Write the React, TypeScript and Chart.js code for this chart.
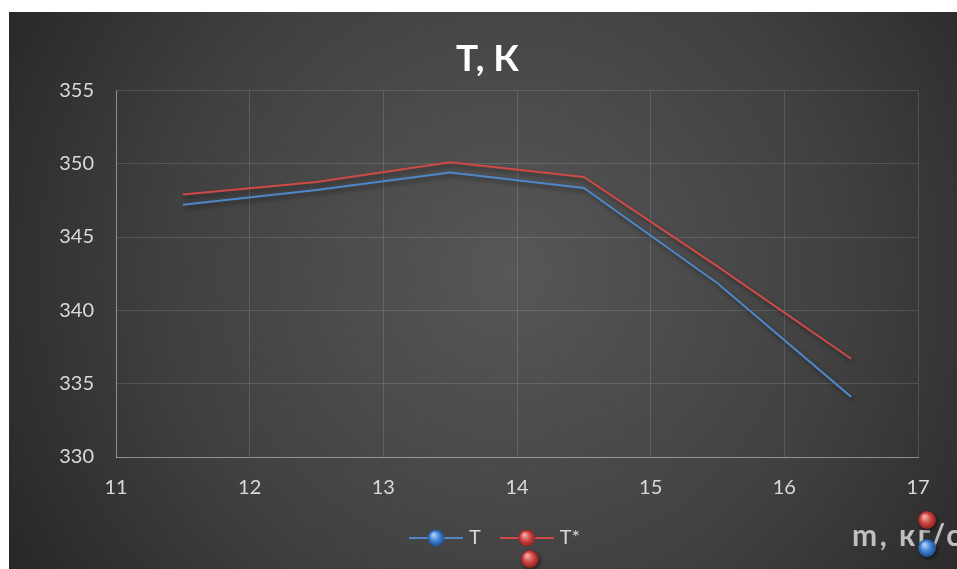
import React, { useEffect, useRef } from "react";
import { Chart, registerables } from "chart.js";

Chart.register(...registerables);

// ---- data ----
const massFlow = [11.5, 12.5, 13.5, 14.5, 15.5, 16.5];
const tValues = [347.2, 348.2, 349.4, 348.35, 341.85, 334.1];
const tStarValues = [347.9, 348.75, 350.1, 349.1, 343.0, 336.7];
const seriesLabels = ["Т", "Т*"];
const seriesColors = ["#4f86c8", "#cf4a47"];
const xMin = 11;
const xMax = 17;
const xStep = 1;
const yMin = 330;
const yMax = 355;
const yStep = 5;
const chartTitle = "Т, К";
const xAxisTitle = "m, кг/с";

const FONT = "Lato, 'Open Sans', sans-serif";

function drawBall(ctx: CanvasRenderingContext2D, x: number, y: number, r: number, base: string, light: string, dark: string, shadow = true) {
  ctx.save();
  if (shadow) {
    ctx.shadowColor = "rgba(0,0,0,0.55)";
    ctx.shadowBlur = 4;
    ctx.shadowOffsetX = 1.5;
    ctx.shadowOffsetY = 2;
  }
  const g = ctx.createRadialGradient(x - r * 0.3, y - r * 0.4, r * 0.1, x, y, r);
  g.addColorStop(0, light);
  g.addColorStop(0.55, base);
  g.addColorStop(1, dark);
  ctx.fillStyle = g;
  ctx.beginPath();
  ctx.arc(x, y, r, 0, Math.PI * 2);
  ctx.fill();
  ctx.restore();
}

const ballColors = [
  { base: "#3f7fd0", light: "#a9cdf5", dark: "#1f4f8f" },
  { base: "#cc4542", light: "#f3a9a6", dark: "#8a2422" },
];

function makeLegendMarker(idx: number): HTMLCanvasElement {
  const c = document.createElement("canvas");
  c.width = 54;
  c.height = 24;
  const ctx = c.getContext("2d")!;
  ctx.strokeStyle = seriesColors[idx];
  ctx.lineWidth = 2;
  ctx.beginPath();
  ctx.moveTo(0, 12);
  ctx.lineTo(54, 12);
  ctx.stroke();
  const b = ballColors[idx];
  drawBall(ctx, 27, 12, 8.5, b.base, b.light, b.dark, false);
  return c;
}

const backgroundPlugin = {
  id: "bgGradient",
  beforeDraw(chart: any) {
    const { ctx, width, height } = chart;
    ctx.save();
    const g = ctx.createRadialGradient(500, 260, 0, 500, 260, 620);
    g.addColorStop(0, "#575757");
    g.addColorStop(0.55, "#404040");
    g.addColorStop(1, "#232323");
    ctx.fillStyle = g;
    ctx.fillRect(0, 0, width, height);
    ctx.restore();
  },
};

const boxShiftPlugin = {
  id: "boxShift",
  afterLayout(chart: any) {
    const lg = chart.legend;
    if (lg) {
      lg.left += 33;
      lg.right += 33;
      lg.top -= 14;
      lg.bottom -= 14;
    }
    const tb = chart.titleBlock;
    if (tb) {
      tb.left += 24;
      tb.right += 24;
    }
  },
};

const lineShadowPlugin = {
  id: "lineShadow",
  beforeDatasetDraw(chart: any) {
    const ctx = chart.ctx;
    ctx.save();
    ctx.shadowColor = "rgba(0,0,0,0.45)";
    ctx.shadowBlur = 4;
    ctx.shadowOffsetX = 2;
    ctx.shadowOffsetY = 3;
  },
  afterDatasetDraw(chart: any) {
    chart.ctx.restore();
  },
};

const extrasPlugin = {
  id: "extras",
  afterDraw(chart: any) {
    const { ctx, chartArea } = chart;
    // x-axis title at lower right
    ctx.save();
    ctx.font = `bold 30px ${FONT}`;
    (ctx as any).letterSpacing = "2.5px";
    ctx.fillStyle = "#bfbfbf";
    ctx.textBaseline = "alphabetic";
    ctx.textAlign = "left";
    ctx.fillText(xAxisTitle, chartArea.right - 66, chartArea.bottom + 89);
    ctx.restore();
    // stray marker balls as in the reference
    const r = 9;
    drawBall(ctx, chartArea.right + 9, chartArea.bottom + 63, r, ballColors[1].base, ballColors[1].light, ballColors[1].dark);
    drawBall(ctx, chartArea.right + 9, chartArea.bottom + 91, r, ballColors[0].base, ballColors[0].light, ballColors[0].dark);
    const hb = chart.legend && chart.legend.legendHitBoxes && chart.legend.legendHitBoxes[1];
    if (hb) {
      drawBall(ctx, hb.left + 26, hb.top + hb.height / 2 + 21, r, ballColors[1].base, ballColors[1].light, ballColors[1].dark);
    }
  },
};

export default function App() {
  const ref = useRef<HTMLCanvasElement | null>(null);

  useEffect(() => {
    if (!ref.current) return;
    const markers = [makeLegendMarker(0), makeLegendMarker(1)];
    const gridColor = "rgba(255,255,255,0.13)";
    const chart = new Chart(ref.current, {
      type: "line",
      data: {
        datasets: [
          {
            label: seriesLabels[0],
            data: massFlow.map((x, i) => ({ x, y: tValues[i] })),
            borderColor: seriesColors[0],
            backgroundColor: seriesColors[0],
            borderWidth: 2,
            pointRadius: 0,
            tension: 0,
          },
          {
            label: seriesLabels[1],
            data: massFlow.map((x, i) => ({ x, y: tStarValues[i] })),
            borderColor: seriesColors[1],
            backgroundColor: seriesColors[1],
            borderWidth: 2,
            pointRadius: 0,
            tension: 0,
          },
        ],
      },
      options: {
        animation: false,
        responsive: false,
        maintainAspectRatio: false,
        layout: { padding: { left: 0, right: 59, top: 0, bottom: 2 } },
        plugins: {
          title: {
            display: true,
            text: chartTitle,
            color: "#ffffff",
            font: { family: FONT, size: 37, weight: "bold" },
            padding: { top: 25, bottom: 9 },
          },
          legend: {
            position: "bottom",
            labels: {
              color: "#d9d9d9",
              font: { family: FONT, size: 20 },
              usePointStyle: true,
              pointStyleWidth: 46,
              padding: 23,
              generateLabels: (ch: any) => {
                const items = Chart.defaults.plugins.legend.labels.generateLabels(ch);
                return items.map((it: any, i: number) => ({ ...it, pointStyle: markers[i] }));
              },
            },
          },
          tooltip: { enabled: false },
        },
        scales: {
          x: {
            type: "linear",
            min: xMin,
            max: xMax,
            ticks: {
              stepSize: xStep,
              color: "#d9d9d9",
              font: { family: FONT, size: 20 },
              padding: 19,
            },
            grid: { color: gridColor, drawTicks: false },
            border: { color: "rgba(255,255,255,0.35)", width: 1 },
          },
          y: {
            type: "linear",
            min: yMin,
            max: yMax,
            ticks: {
              stepSize: yStep,
              color: "#d9d9d9",
              font: { family: FONT, size: 20 },
              padding: 22,
            },
            grid: { color: gridColor, drawTicks: false },
            border: { color: "rgba(255,255,255,0.35)", width: 1 },
            afterFit: (scale: any) => {
              scale.width = 107;
            },
          },
        },
      },
      plugins: [backgroundPlugin, boxShiftPlugin, lineShadowPlugin, extrasPlugin],
    });
    return () => chart.destroy();
  }, []);

  return (
    <div style={{ position: "absolute", left: 9, top: 12, width: 948, height: 557, overflow: "hidden" }}>
      <canvas ref={ref} width={968} height={562} style={{ display: "block", width: 968, height: 562 }} />
    </div>
  );
}
